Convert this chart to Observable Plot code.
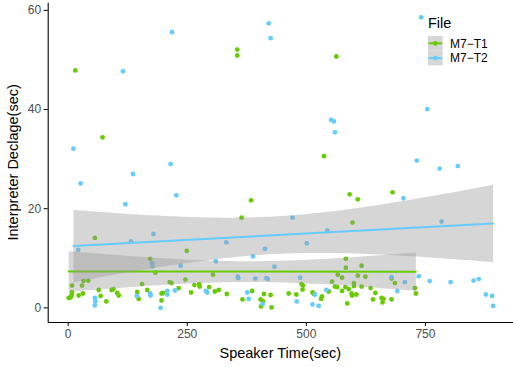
<!DOCTYPE html>
<html><head><meta charset="utf-8">
<script src="https://cdn.jsdelivr.net/npm/d3@7"></script>
<script src="https://cdn.jsdelivr.net/npm/@observablehq/plot@0.6"></script>
<style>body{margin:0;background:#fff;}</style>
</head><body><div id="chart"></div>
<script>
const seriesNames = ["M7−T1", "M7−T2"];
const seriesColors = ["#66cc00", "#66ccff"];
const t1Time = [15,72,355,355,563,537,56,384,364,591,608,597,681,172,183,8,29,42,32,8,7,1,5,22,31,64,68,80,91,95,103,106,155,145,148,166,196,199,196,213,217,249,304,246,232,265,275,276,296,258,308,316,333,386,366,404,409,411,425,405,427,463,583,583,616,566,575,608,624,554,560,565,600,600,616,589,582,575,595,596,605,635,645,658,662,660,679,640,586,490,493,492,547,533,531,479,513,516,679,686,728,730];
const t1Declage = [47.9,34.4,52.1,50.9,50.7,30.6,14.1,21.7,18.2,22.9,21.9,17.2,23.3,9.9,7.1,4.5,4.5,5.5,5.4,3.1,2.5,2.0,2.1,2.5,2.9,3.6,2.4,1.3,3.6,3.8,3.0,2.5,4.8,3.2,1.8,3.6,2.9,3.0,1.5,5.2,5.0,11.5,6.7,5.7,4.0,4.6,4.8,4.3,4.2,3.1,3.3,3.6,2.8,3.4,1.7,1.7,1.3,2.8,2.6,0.3,0.1,2.9,9.9,8.1,8.5,6.7,6.1,6.5,6.3,5.3,4.3,4.2,5.0,4.4,4.3,3.8,4.2,3.4,2.9,2.5,2.7,4.0,3.0,2.0,1.8,1.1,1.7,1.7,0.9,4.8,4.5,3.7,3.3,2.3,1.8,2.7,3.1,2.8,5.9,5.0,4.0,2.9];
// last value pair: a point estimated to lie under the legend box (inferred from the fitted line)
const t2Time = [218,115,11,421,425,552,558,560,741,754,732,26,136,215,227,120,132,179,471,544,332,501,780,818,704,784,21,176,177,56,57,56,144,172,173,208,208,194,224,413,388,310,236,433,356,357,393,416,419,289,292,376,379,408,487,518,542,480,513,526,691,707,679,736,759,803,851,862,877,890,892,860];
const t2Declage = [55.6,47.7,32.1,57.4,54.4,37.9,37.6,35.4,58.6,40.1,29.7,25.1,27.0,29.0,22.7,20.9,13.4,14.9,18.2,15.6,13.2,13.0,28.1,28.6,22.1,17.4,11.7,9.0,8.4,2.0,1.3,0.5,2.4,2.9,2.5,3.4,2.7,0.0,3.5,11.9,10.4,9.4,8.5,8.3,6.3,6.0,5.9,6.0,5.8,3.4,3.1,3.1,1.8,0.8,6.1,2.7,3.6,1.3,0.7,0.4,3.4,5.2,6.2,6.4,5.4,5.2,5.5,5.8,2.7,2.4,0.4,54.0];
const xTicks = [0, 250, 500, 750];
const yTicks = [0, 20, 40, 60];
const xTitle = "Speaker Time(sec)";
const yTitle = "Interpreter Declage(sec)";
const legendTitle = "File";

const xDomain = [-42, 935];
const yDomain = [-2.95, 61.45];

const rowsT1 = t1Time.map((t, i) => ({file: seriesNames[0], time: t, declage: t1Declage[i]}));
const rowsT2 = t2Time.map((t, i) => ({file: seriesNames[1], time: t, declage: t2Declage[i]}));

const W = 513, H = 367;
const mL = 47.7, mR = 0, mT = 2.7, mB = 45;
const font = "'Liberation Sans', Arial, Helvetica, sans-serif";

const chart = Plot.plot({
  width: W, height: H,
  marginLeft: mL, marginRight: mR, marginTop: mT, marginBottom: mB,
  style: {fontFamily: font, fontSize: "12px", background: "white", color: "black"},
  x: {domain: xDomain, ticks: xTicks},
  y: {domain: yDomain, ticks: yTicks},
  marks: [
    Plot.dot(rowsT1, {x: "time", y: "declage", fill: seriesColors[0], r: 2.4}),
    Plot.dot(rowsT2, {x: "time", y: "declage", fill: seriesColors[1], r: 2.4}),
    Plot.linearRegressionY(rowsT1, {x: "time", y: "declage", stroke: seriesColors[0], strokeWidth: 2, fill: "#999999", fillOpacity: 0.4}),
    Plot.linearRegressionY(rowsT2, {x: "time", y: "declage", stroke: seriesColors[1], strokeWidth: 2, fill: "#999999", fillOpacity: 0.4}),
    Plot.axisX({ticks: xTicks, tickSize: 4, tickPadding: 2.5, label: null, tickFormat: d => d}),
    Plot.axisY({ticks: yTicks, tickSize: 4, tickPadding: 3, label: null, tickFormat: d => d}),
    Plot.ruleX([xDomain[0]], {stroke: "black", strokeWidth: 1.1}),
    Plot.ruleY([yDomain[0]], {stroke: "black", strokeWidth: 1.1})
  ]
});

document.getElementById("chart").appendChild(chart);
const svg = d3.select(chart);
svg.selectAll('g[aria-label$="tick label"]').attr("fill", "#4d4d4d");

const panelCx = (mL + (W - mR)) / 2;
const panelCy = (mT + (H - mB)) / 2;
svg.append("text").attr("x", panelCx).attr("y", 357.5)
  .attr("text-anchor", "middle").attr("font-family", font).attr("font-size", 14.5)
  .attr("fill", "black").text(xTitle);
svg.append("text").attr("transform", `translate(18,${panelCy}) rotate(-90)`)
  .attr("text-anchor", "middle").attr("font-family", font).attr("font-size", 14.5)
  .attr("fill", "black").text(yTitle);

// legend (inside the panel, white background like ggplot)
const lg = svg.append("g").attr("font-family", font).attr("text-anchor", "start");
lg.append("rect").attr("x", 424).attr("y", 12).attr("width", 70).attr("height", 58).attr("fill", "white");
lg.append("text").attr("x", 428).attr("y", 28).attr("font-size", 14.5).attr("fill", "black").text(legendTitle);
const keyW = 14.7;
seriesNames.forEach((name, i) => {
  const y0 = 36 + i * keyW;
  lg.append("rect").attr("x", 428).attr("y", y0).attr("width", keyW).attr("height", keyW).attr("fill", "#d6d6d6");
  lg.append("line").attr("x1", 428.5).attr("x2", 428 + keyW - 0.5).attr("y1", y0 + keyW / 2).attr("y2", y0 + keyW / 2)
    .attr("stroke", seriesColors[i]).attr("stroke-width", 2);
  lg.append("circle").attr("cx", 428 + keyW / 2).attr("cy", y0 + keyW / 2).attr("r", 2.4).attr("fill", seriesColors[i]);
  lg.append("text").attr("x", 450).attr("y", y0 + keyW / 2).attr("dy", "0.35em").attr("font-size", 12).attr("fill", "black").text(name);
});
</script>
</body></html>
